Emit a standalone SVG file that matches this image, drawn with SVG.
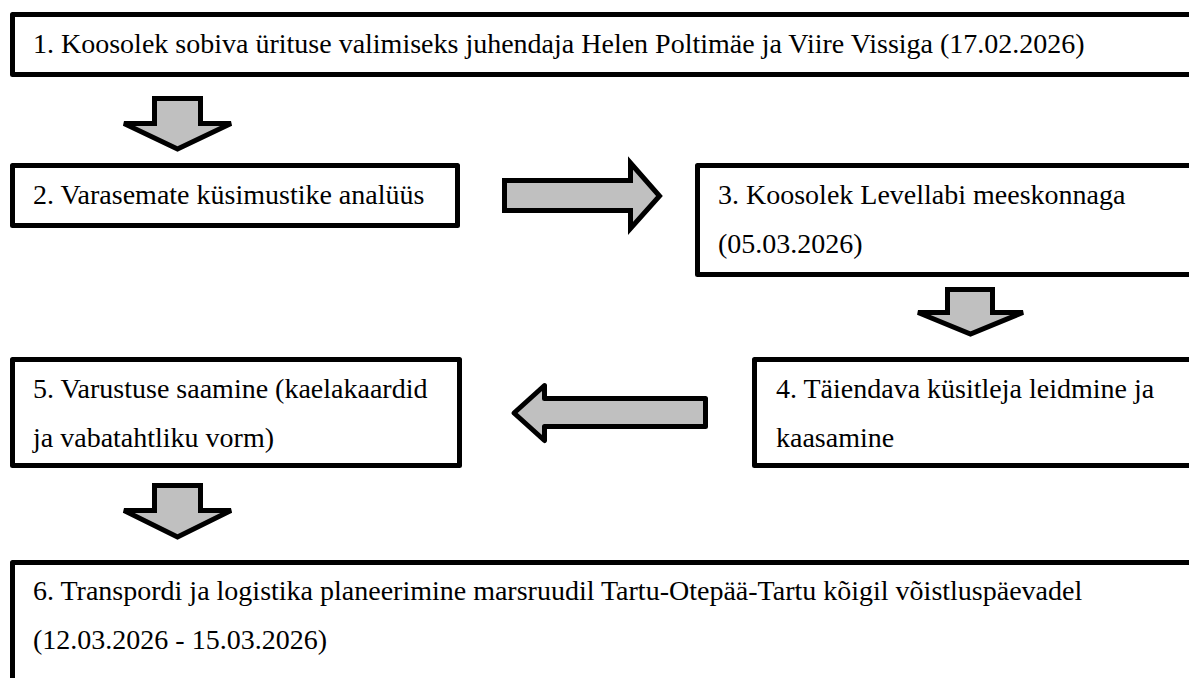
<svg xmlns="http://www.w3.org/2000/svg" width="1189" height="678" viewBox="0 0 1189 678">
<style>
.box{fill:#fff;stroke:#000;stroke-width:5;stroke-linejoin:round}
.arr{fill:#c0c0c0;stroke:#000;stroke-width:5;stroke-linejoin:miter}
.arrr{fill:#c0c0c0;stroke:#000;stroke-width:5;stroke-linejoin:round}
.t{font-family:'Liberation Serif','Times New Roman',serif;font-size:28px;fill:#000}
</style>
<rect width="1189" height="678" fill="#fff"/>
<g id="connectors">
<polygon class="arr" points="154.5,98.5 200.5,98.5 200.5,123.5 231,123.5 177.5,149 124,123.5 154.5,123.5"/>
<polygon class="arr" points="504.5,180.5 630.5,180.5 630.5,163 659.5,196 630.5,228.5 630.5,210.5 504.5,210.5"/>
<polygon class="arr" points="947.5,289.5 992.5,289.5 992.5,312.5 1023,312.5 970.5,334 918,312.5 947.5,312.5"/>
<polygon class="arrr" points="705.5,398.5 544.5,398.5 544.5,385.5 514,413 544.5,440.5 544.5,426.5 705.5,426.5"/>
<polygon class="arr" points="154.5,485.5 200.5,485.5 200.5,510.5 231,510.5 177.5,537 124,510.5 154.5,510.5"/>
</g>
<g id="node1">
<rect class="box" x="12.5" y="14.5" width="1200" height="60"/>
<text class="t" font-family="Liberation Serif, serif" x="33" y="53">1. Koosolek sobiva ürituse valimiseks juhendaja Helen Poltimäe ja Viire Vissiga (17.02.2026)</text>
</g>
<g id="node2">
<rect class="box" x="12.5" y="165.5" width="445" height="60"/>
<text class="t" x="33" y="204">2. Varasemate küsimustike analüüs</text>
</g>
<g id="node3">
<rect class="box" x="697.5" y="165.5" width="600" height="109"/>
<text class="t" x="718" y="204">3. Koosolek Levellabi meeskonnaga</text>
<text class="t" x="718" y="253">(05.03.2026)</text>
</g>
<g id="node4">
<rect class="box" x="754.5" y="359.5" width="600" height="106"/>
<text class="t" x="776" y="398">4. Täiendava küsitleja leidmine ja</text>
<text class="t" x="776" y="447">kaasamine</text>
</g>
<g id="node5">
<rect class="box" x="12.5" y="359.5" width="447" height="106"/>
<text class="t" x="33" y="398">5. Varustuse saamine (kaelakaardid</text>
<text class="t" x="33" y="447">ja vabatahtliku vorm)</text>
</g>
<g id="node6">
<rect class="box" x="12.5" y="562.5" width="1200" height="200"/>
<text class="t" x="33" y="600">6. Transpordi ja logistika planeerimine marsruudil Tartu-Otepää-Tartu kõigil võistluspäevadel</text>
<text class="t" x="33" y="649">(12.03.2026 - 15.03.2026)</text>
</g>
</svg>
